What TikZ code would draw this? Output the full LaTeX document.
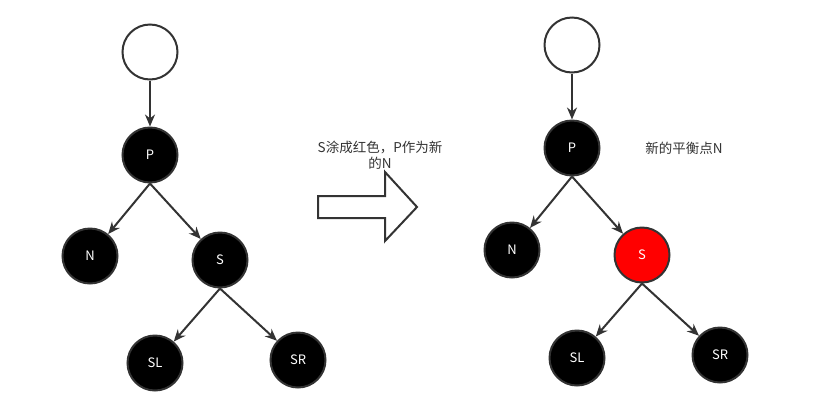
\documentclass[tikz,border=0pt]{standalone}
\usepackage{fontspec}
\setmainfont{Noto Sans CJK SC}
\usetikzlibrary{arrows.meta}
\definecolor{ln}{HTML}{333333}
\tikzset{
  nd/.style={circle, draw=ln, line width=2pt, fill=black, minimum size=55pt, inner sep=0pt, text=white, font=\fontsize{13}{15}\selectfont},
  topnd/.style={nd, fill=white},
  rednd/.style={nd, fill=red},
  edge/.style={draw=ln, line width=2pt, -{Stealth[length=12pt,width=10pt]}},
  lbl/.style={text=ln, font=\fontsize{13.5}{16}\selectfont, align=center}
}
\begin{document}
\begin{tikzpicture}[x=1pt,y=-1pt]
\useasboundingbox (0,0) rectangle (824,408);
% left tree
\node[topnd] (t1) at (150,52) {};
\node[nd] (p1) at (150,155) {P};
\node[nd] (n1) at (90,256) {N};
\node[nd] (s1) at (220,260) {S};
\node[nd] (sl1) at (155,363) {SL};
\node[nd] (sr1) at (298,360) {SR};
\draw[edge] (t1) -- (p1);
\draw[edge] (p1.south) -- (n1);
\draw[edge] (p1.south) -- (s1);
\draw[edge] (s1.south) -- (sl1);
\draw[edge] (s1.south) -- (sr1);
% right tree
\node[topnd] (t2) at (572,45) {};
\node[nd] (p2) at (572,148) {P};
\node[nd] (n2) at (512,250) {N};
\node[rednd] (s2) at (642,255) {S};
\node[nd] (sl2) at (577,358) {SL};
\node[nd] (sr2) at (720,355) {SR};
\draw[edge] (t2) -- (p2);
\draw[edge] (p2.south) -- (n2);
\draw[edge] (p2.south) -- (s2);
\draw[edge] (s2.south) -- (sl2);
\draw[edge] (s2.south) -- (sr2);
% labels
\node[lbl] (note) at (684,148) {新的平衡点N};
\node[lbl] (cap) at (380,155) {S涂成红色，P作为新\\的N};
% big arrow
\draw[draw=ln, line width=2pt, fill=white, line join=miter]
  (318,196) -- (385,196) -- (385,172) -- (417,207) -- (385,241) -- (385,218) -- (318,218) -- cycle;
\end{tikzpicture}
\end{document}
